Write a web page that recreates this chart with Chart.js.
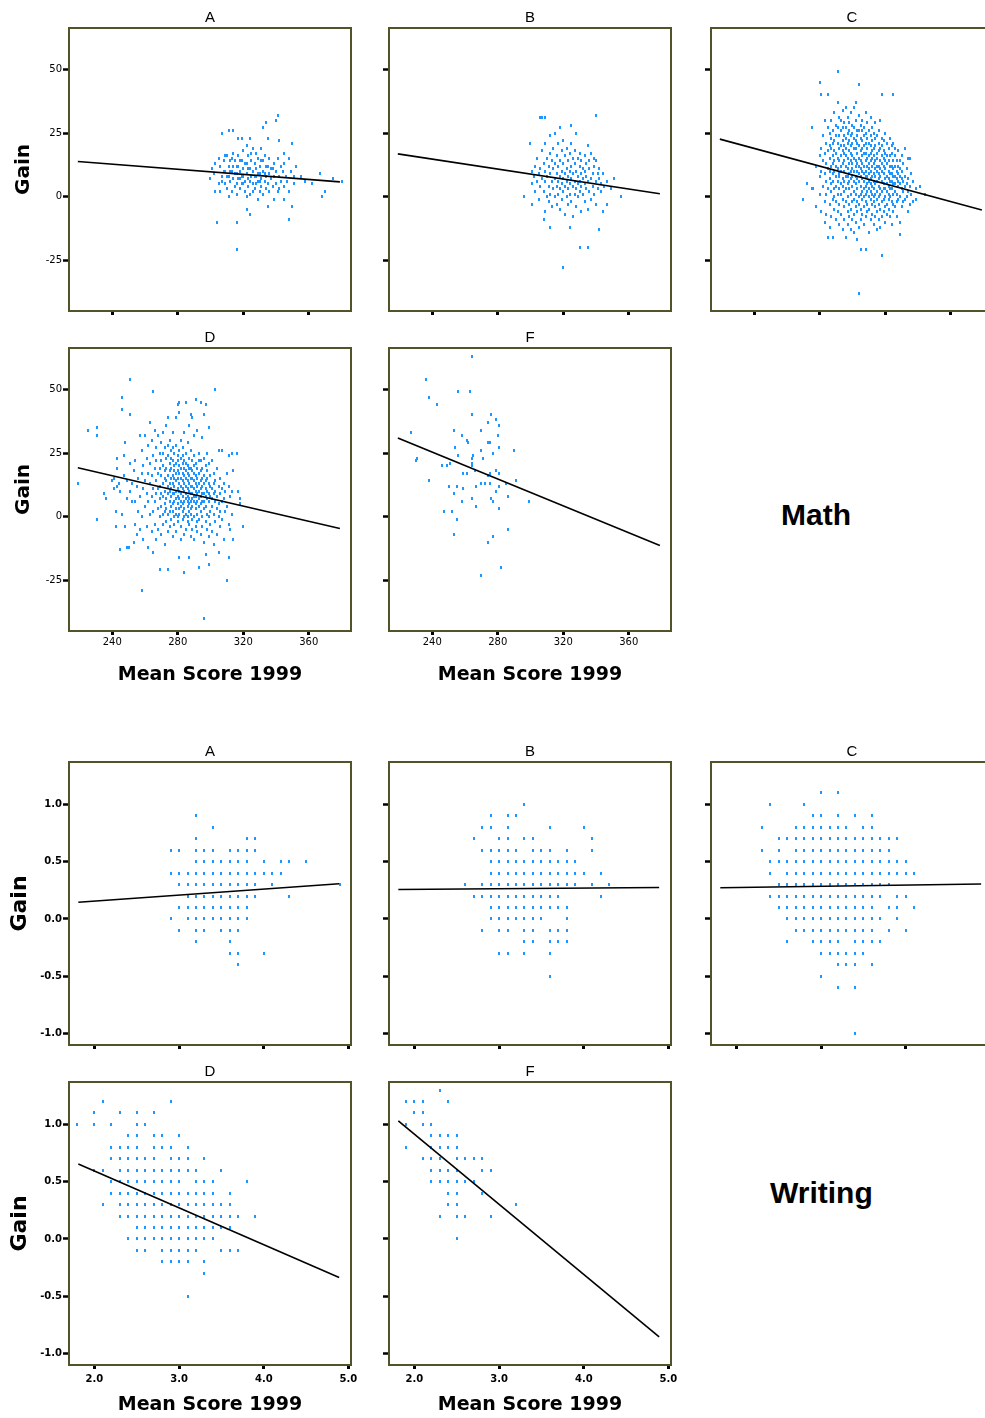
<!DOCTYPE html>
<html>
<head>
<meta charset="utf-8">
<script src="https://cdn.jsdelivr.net/npm/chart.js@4.4.1/dist/chart.umd.min.js"></script>
<style>
  html, body { margin: 0; padding: 0; background: #fff; overflow: hidden; }
  #wrap { position: relative; width: 985px; height: 1418px; overflow: hidden; background: #fff; }
  #wrap canvas { position: absolute; }
  .subject { position: absolute; font: bold 30px "Liberation Sans", Arial, sans-serif; line-height: 30px; color: #000; white-space: nowrap; }
</style>
</head>
<body>
<div id="wrap">
  <div class="subject" style="left:781px; top:500px;">Math</div>
  <div class="subject" style="left:770px; top:1178px;">Writing</div>
</div>
<script>
/* ================= DATA ================= */
// Math: gain against 1999 mean score, one school per point.
// Each entry is [score, gain, gain, ...] for schools sharing roughly that score.
const mathA = [
  [300, 7], [301, 11], [302, 9], [303, 2, 13], [304, -10], [305, 15, 5], [306, 2, 12],
  [307, 25, 8, 6], [308, 14, 10], [309, 10, 5, 16], [310, 16, 3, 8], [311, 26, 12, 8, 0],
  [312, 14, 6, 10], [313, 10, 2, 15], [314, 26, 17, 12, 7], [315, 4, 14, 9],
  [316, -21, -10, 1, 9, 5, 12], [317, 23, 12, 16, 7], [318, 7, 3, 10, 14], [319, 23, 14, 8, 5],
  [320, 5, 18, 11, 8], [321, 6, 2, 13], [322, -5, 20, 13, 9, 0], [323, 16, 7, 4, 11],
  [324, -7, 23, 11, 1, 6], [325, 14, 8, 17], [326, 19, 5, 10, 2], [327, 13, 3, 8],
  [328, 17, 8, 11, 5], [329, -1, 6, 15, 9], [330, 9, 2, 12, 6], [331, 19, 7, 4, 14],
  [332, 27, 10, 14, 1], [333, 6, 16, 9], [334, 29, 8, 3, 12], [335, 23, -4, 12, 5],
  [336, 9, 15, 2], [337, 7, 11], [338, 11, 4], [339, -1, 13, 8], [340, 30, 5, 10],
  [341, 32, 15, 2], [342, 22, 8, 3], [343, 12, 6], [344, 10], [345, 17, -1, 4, 13],
  [346, 8], [347, 6], [348, -9, 15, 2], [349, 10], [350, -4, 21], [351, 8, 5],
  [352, 12], [355, 8], [358, 6], [362, 5], [367, 9], [368, 0], [370, 2], [375, 7], [380, 6]
];

const mathB = [
  [296, 0], [300, 21], [301, -3, 5, 10], [302, 8], [303, 2, 12], [304, 6, 15], [305, -1, 9],
  [306, 31, 4, 11], [307, 31, 7, 18], [308, -9, 2, 13], [309, 31, 21, -6, 6, 10],
  [310, 0, 15, 8], [311, 4, 12, -2], [312, 24, -12, 9, 17, 1], [313, 6, 14, -4],
  [314, 11, 3, 19], [315, 25, 7, 0, 13], [316, 16, 9, 4, -3], [317, 12, 6, 21, 1],
  [318, 27, 8, 14, -5, 3], [319, 10, 18, 5, -1], [320, -28, 13, 7, 2, 22],
  [321, 9, 16, 4, -7], [322, 11, 6, 19, 0], [323, 14, 3, 8, -3], [324, -12, 17, 10, 5, 1],
  [325, 28, 12, 7, 21, -2], [326, 9, 4, 15, -8], [327, 6, 13, 1, 18], [328, 25, 10, 3, -4],
  [329, 8, 15, 5, 0], [330, -20, 12, 6, 2, 17], [331, 9, -6, 14, 4], [332, 7, 11, 1],
  [333, 16, 5, -2, 10], [334, 13, 3, 8], [335, -20, 20, 6, -5], [336, 11, 2, 14],
  [337, 7, 17, -1], [338, 4, 9], [339, 15, 12, 1], [340, 32, 14, 6, -3], [341, 9, 3],
  [342, -13, 7, 11], [343, 2, 5], [344, -6, 9], [345, 4], [347, -3, 6], [349, 3],
  [351, 7], [355, 0]
];

const mathC = [
  [270, -1], [272, 5], [275, 27, 3], [276, 3], [278, 12, -4], [280, 45, 8, 16, 1],
  [281, 40, 19, -6, 10], [282, 14, 4, 24], [283, 30, 9, -2, 17, -10],
  [284, 21, 6, 13, -7, 1], [285, 40, 27, 11, -16, 3, 18], [286, 25, 15, 7, -3, 20, -12, 10],
  [287, 30, 19, 2, 12, -8, 23, 5], [288, -16, 26, 9, 16, -1, 6, 21, 13],
  [289, 33, 14, 3, 22, -5, 10, 18, 0], [290, 28, 17, 8, -9, 12, 24, 4, -2],
  [291, 49, 37, 21, 11, 1, 15, -6, 27, 6], [292, 31, 19, 9, -11, 14, 3, 24, -3, 8],
  [293, 26, 16, 5, 12, -7, 20, 1, 30, 10], [294, 34, 22, 13, 7, -1, 18, -13, 4, 27],
  [295, 29, 17, 10, 2, -4, 24, 14, -9, 6, 20], [296, 35, 23, 12, 8, -2, 16, 3, -16, 19, 27],
  [297, 31, 21, 15, 5, -6, 11, 0, -11, 25, 8], [298, 26, 18, 9, 3, -3, 13, 22, -8, 6, 29],
  [299, 33, 20, 14, 7, 1, -5, 17, 24, 10, -13], [300, 28, 16, 11, 4, -2, 21, 8, -9, 13, 25],
  [301, 35, 23, 15, 6, -1, 10, 19, -7, 2, 27, -14], [302, 37, 30, 19, 12, 5, -4, 14, 8, -10, 22, 1],
  [303, 26, 17, 10, 3, -2, 21, 7, 13, -6, 24, -17], [304, 44, 32, 20, 12, 6, 0, 15, -3, 9, -12, 26, -38],
  [305, 28, 18, 11, 4, -5, 14, 23, 1, 8, -9, -21], [306, 30, 22, 13, 7, 2, 16, -1, 10, -7, 26, 19],
  [307, 27, 17, 9, 3, -4, 12, 20, 6, -11, 24, 0], [308, 33, 21, 14, 8, 1, -2, 17, 10, -8, 25, 4, -21],
  [309, 29, 19, 12, 5, -3, 15, 8, 23, -6, 2], [310, 26, 16, 11, 6, 0, -5, 13, 21, 9, -14, 3],
  [311, 31, 20, 14, 7, 2, -1, 17, 10, -9, 24, 5], [312, 27, 18, 12, 4, -3, 15, 8, 22, -7, 1],
  [313, 25, 16, 9, 3, -2, 13, 19, 6, -11, 0], [314, 29, 20, 11, 5, -4, 14, 8, 23, 1, -8],
  [315, 24, 15, 10, 2, -1, 17, 6, -6, 12, -13], [316, 26, 18, 12, 4, -3, 9, 21, 7, 0, -9],
  [317, 30, 14, 8, 1, -5, 11, 19, 3, -12], [318, 40, 23, 16, 10, 2, -2, 13, 6, -8, -23, 20],
  [319, 22, 12, 5, -1, 9, 15, 3, -6, 18], [320, 25, 14, 7, 0, -4, 11, 17, 3, -10],
  [321, 21, 13, 8, 2, -3, 16, 5, -7], [322, 19, 10, 4, -1, 14, 7, -5, 1],
  [323, 23, 12, 6, 0, -8, 9, 16, 3], [324, 17, 9, 3, -2, 12, 6, -11, 20],
  [325, 40, 21, 11, 5, -3, 14, 1, 8, -6], [326, 16, 8, 2, -4, 12, 5, 19],
  [327, 14, 7, 1, 10, -2, -8], [328, 18, 9, 4, -1, 12, 6], [329, -15, -10, 11, 5, 0, 8, 14],
  [330, 16, 3, 7, -4, 10], [331, 13, 2, 6, -2], [332, 19, 8, 4, -1], [333, 11, 5, 0],
  [334, -6, 15, 2, 7], [335, 15, 4, -3], [336, 9, 1], [337, 6, -2], [339, -1, 3], [341, 4], [344, 1]
];

const mathD = [
  [219, 13], [225, 34], [231, 35, 32, -1], [235, 9], [236, 7], [240, 14], [241, 15, 11],
  [242, 2, -4], [243, 23, 19, 12], [244, 13], [245, -13, 10], [246, 47, 42, 1], [247, 24, 16],
  [248, 29, -4], [249, -12, 7, 14], [250, -12], [251, 54, 40, 21, 10], [252, 13, 6],
  [253, -10, 18], [254, -3, 22, 6], [255, 12, -7], [256, 15, 2], [257, 32, 8, -5],
  [258, -29, 17, 26, 0], [259, 11, -9, 20], [260, 32, 14, 4], [261, 23, -4, 9],
  [262, 28, 17, -12, 6], [263, 37, 13, 1, 21], [264, 30, 8, -6, 16], [265, 49, 24, 11, 2, -14],
  [266, 34, 19, 6, -3], [267, 27, 14, 9, -9, 22], [268, 32, 17, 3, 11, -5],
  [269, -21, 25, 12, 7, 0, 19], [270, 29, 16, 4, -7, 9, 22], [271, 33, 20, 13, 1, -3, 8, 25],
  [272, 27, 18, 10, 5, -11, 15, 2], [273, 36, 23, 14, 7, -2, 19, 3],
  [274, -21, 39, 24, 16, 9, 1, -6, 12, 28], [275, 30, 21, 13, 6, -4, 18, 2, 10],
  [276, 26, 19, 11, 4, -1, 15, 8, 23], [277, 33, 22, 16, 9, 2, -8, 13, 5, 27],
  [278, 25, 18, 12, 6, 0, 20, -3, 9, 15], [279, 39, 28, 21, 14, 7, 3, -6, 17, 10, 1],
  [280, 44, 24, 18, 11, 5, -2, 15, 8, 22, 0], [281, 45, 41, 26, 20, 13, 7, 1, -16, 10, 17, 3],
  [282, 30, 23, 15, 9, 4, -4, 12, 19, 6, -9], [283, 27, 21, 14, 8, 2, -1, 17, 11, 5, 24],
  [284, -22, 33, 22, 16, 10, 6, 0, 13, 19, 3, -7], [285, 45, 25, 18, 12, 7, 1, -5, 15, 9, 21],
  [286, 29, 20, 14, 8, 4, -2, 11, 17, 6, 0], [287, -16, 36, 23, 16, 10, 5, -3, 13, 7, 19, 2],
  [288, 40, 26, 19, 12, 6, 1, -8, 9, 15, 3], [289, 39, 22, 15, 9, 4, -1, 12, 7, 18, -5],
  [290, 32, 24, 17, 11, 6, 0, 14, 8, 20, -9], [291, 46, 21, 13, 8, 3, -4, 16, 10, 5],
  [292, 34, 19, 12, 6, 1, -6, 9, 15, -2], [293, -20, 25, 17, 10, 4, -1, 13, 7, 22],
  [294, 45, 22, 14, 8, 2, -7, 11, 5, 18], [295, 31, 19, 12, 6, 0, -4, 9, 15],
  [296, -40, 40, 23, 16, 9, 3, -10, 13, 6], [297, 44, 20, 11, 4, -2, 14, 8, -15],
  [298, 25, 15, 7, 1, -5, 10, 18], [299, 35, -19, 21, 13, 6, 0, 9, -8], [300, 16, 8, 2, -3, 12],
  [301, 22, 11, 4, -6, 7], [302, 17, 9, 1, -11, 13], [303, 50, 14, 6, -2, 10], [304, 19, 8, 3, -7],
  [305, 26, -14, 12, 5, 0], [306, 15, 9, 2, -4], [307, 26, 11, 6, -1], [308, 7, -9, 13],
  [309, 10, 2], [310, -25, 17, 4], [311, -16, 24, 12, -3], [312, 8, -5], [313, 25, 1, 10],
  [314, 18, -9], [316, 25], [317, 10], [318, 7, 5], [320, -4]
];

const mathF = [
  [227, 33], [230, 22], [231, 23], [236, 54], [238, 47, 14], [243, 44], [246, 20], [247, 2],
  [249, 20], [250, 12], [251, 21], [252, 2], [253, 34, 9, -7], [254, 27], [255, 12, -1],
  [256, 49, 24], [258, 32, 6], [259, 17, 11], [261, 30, 17], [262, 29], [263, 49],
  [264, 63, 40, 23, 21, 20, 7], [265, 24], [266, 18], [267, 12, 4], [270, 34, 26, -23, 13],
  [271, 23], [272, 13], [274, 37, 29, 16, -10], [275, 29, 17, 13], [276, 40, 7],
  [277, 25, 6, -8], [279, 38, 18, 10], [280, 32], [281, 36, 27, 17, 12, 3], [282, -20],
  [285, 13], [286, 8, -5], [290, 26], [291, 14], [299, 6]
];

// Writing: each entry is [gain, score, score, ...] for one row of the 0.1 grid.
const writingA = [
  [0.9, 3.2], [0.8, 3.4], [0.7, 3.2, 3.8, 3.9],
  [0.6, 2.9, 3.0, 3.2, 3.3, 3.4, 3.6, 3.7, 3.8, 3.9],
  [0.5, 3.2, 3.3, 3.4, 3.5, 3.6, 3.7, 3.8, 4.0, 4.2, 4.3, 4.5],
  [0.4, 2.9, 3.0, 3.1, 3.2, 3.3, 3.4, 3.5, 3.6, 3.7, 3.8, 3.9, 4.0, 4.1, 4.2],
  [0.3, 3.0, 3.1, 3.2, 3.3, 3.4, 3.5, 3.6, 3.7, 3.8, 3.9, 4.1, 4.9],
  [0.2, 3.1, 3.2, 3.3, 3.4, 3.5, 3.6, 3.7, 3.8, 3.9, 4.3],
  [0.1, 3.0, 3.1, 3.2, 3.3, 3.4, 3.5, 3.6, 3.7, 3.8],
  [0.0, 2.9, 3.1, 3.2, 3.3, 3.4, 3.5, 3.6, 3.7, 3.8],
  [-0.1, 3.0, 3.2, 3.3, 3.5, 3.6, 3.7],
  [-0.2, 3.2, 3.6], [-0.3, 3.6, 3.7, 4.0], [-0.4, 3.7]
];

const writingB = [
  [1.0, 3.3], [0.9, 2.9, 3.1, 3.2], [0.8, 2.8, 2.9, 3.1, 3.6, 4.0],
  [0.7, 2.7, 3.0, 3.1, 3.3, 3.4, 4.1],
  [0.6, 2.8, 2.9, 3.0, 3.1, 3.2, 3.4, 3.5, 3.6, 3.8, 4.1],
  [0.5, 2.9, 3.0, 3.1, 3.2, 3.3, 3.4, 3.5, 3.6, 3.7, 3.8, 3.9],
  [0.4, 2.9, 3.0, 3.1, 3.2, 3.3, 3.4, 3.5, 3.6, 3.7, 3.8, 3.9, 4.0, 4.2],
  [0.3, 2.6, 2.8, 2.9, 3.0, 3.1, 3.2, 3.3, 3.4, 3.5, 3.6, 3.7, 3.8, 3.9, 4.1, 4.3],
  [0.2, 2.7, 2.8, 2.9, 3.0, 3.1, 3.2, 3.3, 3.4, 3.5, 3.6, 3.7, 4.2],
  [0.1, 2.9, 3.0, 3.1, 3.2, 3.3, 3.4, 3.5, 3.6, 3.7, 3.8],
  [0.0, 2.9, 3.0, 3.1, 3.2, 3.3, 3.4, 3.5, 3.8],
  [-0.1, 2.8, 3.0, 3.1, 3.3, 3.4, 3.6, 3.7, 3.8],
  [-0.2, 3.3, 3.4, 3.6, 3.7, 3.8], [-0.3, 3.0, 3.1, 3.3, 3.6], [-0.5, 3.6]
];

const writingC = [
  [1.1, 3.0, 3.2], [1.0, 2.4, 2.8], [0.9, 2.9, 3.0, 3.2, 3.4, 3.6],
  [0.8, 2.3, 2.7, 2.8, 2.9, 3.0, 3.1, 3.2, 3.3, 3.5, 3.6],
  [0.7, 2.5, 2.6, 2.7, 2.8, 2.9, 3.0, 3.1, 3.2, 3.3, 3.4, 3.5, 3.6, 3.7, 3.8, 3.9],
  [0.6, 2.3, 2.5, 2.7, 2.8, 2.9, 3.0, 3.1, 3.2, 3.3, 3.4, 3.5, 3.6, 3.7, 3.8],
  [0.5, 2.4, 2.5, 2.6, 2.7, 2.8, 2.9, 3.0, 3.1, 3.2, 3.3, 3.4, 3.5, 3.6, 3.7, 3.8, 3.9, 4.0],
  [0.4, 2.4, 2.6, 2.7, 2.8, 2.9, 3.0, 3.1, 3.2, 3.3, 3.4, 3.5, 3.6, 3.7, 3.8, 3.9, 4.0, 4.1],
  [0.3, 2.5, 2.6, 2.7, 2.8, 2.9, 3.0, 3.1, 3.2, 3.3, 3.4, 3.5, 3.6, 3.7, 3.8],
  [0.2, 2.4, 2.5, 2.6, 2.7, 2.8, 2.9, 3.0, 3.1, 3.2, 3.3, 3.4, 3.5, 3.6, 3.7, 3.9, 4.0],
  [0.1, 2.5, 2.6, 2.7, 2.8, 2.9, 3.0, 3.1, 3.2, 3.3, 3.4, 3.5, 3.6, 3.8, 3.9, 4.1],
  [0.0, 2.6, 2.7, 2.8, 2.9, 3.0, 3.1, 3.2, 3.3, 3.4, 3.5, 3.6, 3.7, 3.9],
  [-0.1, 2.7, 2.8, 2.9, 3.0, 3.1, 3.2, 3.3, 3.4, 3.5, 3.6, 3.8, 4.0],
  [-0.2, 2.6, 2.9, 3.0, 3.1, 3.2, 3.4, 3.5, 3.6, 3.7],
  [-0.3, 3.0, 3.1, 3.2, 3.3, 3.4, 3.5], [-0.4, 3.2, 3.3, 3.4, 3.6],
  [-0.5, 3.0], [-0.6, 3.2, 3.4], [-1.0, 3.4]
];

const writingD = [
  [1.2, 2.1, 2.9], [1.1, 2.0, 2.3, 2.5, 2.7], [1.0, 1.8, 2.0, 2.2, 2.5, 2.6],
  [0.9, 2.4, 2.5, 2.7, 2.8, 3.0], [0.8, 2.2, 2.3, 2.4, 2.5, 2.7, 2.8, 2.9, 3.1],
  [0.7, 2.2, 2.3, 2.4, 2.5, 2.6, 2.7, 2.9, 3.0, 3.1, 3.3],
  [0.6, 2.0, 2.1, 2.3, 2.4, 2.5, 2.6, 2.7, 2.8, 2.9, 3.0, 3.1, 3.2, 3.5],
  [0.5, 2.2, 2.3, 2.4, 2.5, 2.6, 2.7, 2.8, 2.9, 3.0, 3.2, 3.3, 3.4, 3.8],
  [0.4, 2.2, 2.3, 2.4, 2.5, 2.6, 2.7, 2.8, 2.9, 3.0, 3.1, 3.2, 3.3, 3.4, 3.6],
  [0.3, 2.1, 2.3, 2.4, 2.5, 2.6, 2.7, 2.8, 2.9, 3.0, 3.1, 3.2, 3.3, 3.4, 3.5, 3.6],
  [0.2, 2.3, 2.4, 2.5, 2.6, 2.7, 2.8, 2.9, 3.0, 3.1, 3.2, 3.3, 3.4, 3.5, 3.6, 3.7, 3.9],
  [0.1, 2.5, 2.6, 2.7, 2.8, 2.9, 3.0, 3.1, 3.2, 3.3, 3.4, 3.5, 3.6],
  [0.0, 2.4, 2.5, 2.6, 2.7, 2.8, 2.9, 3.0, 3.1, 3.2, 3.3, 3.4],
  [-0.1, 2.5, 2.6, 2.8, 2.9, 3.0, 3.1, 3.2, 3.5, 3.6, 3.7],
  [-0.2, 2.8, 2.9, 3.0, 3.1, 3.3], [-0.3, 3.3], [-0.5, 3.1]
];

const writingF = [
  [1.3, 2.3], [1.2, 1.9, 2.0, 2.1, 2.4], [1.1, 2.0, 2.1], [1.0, 1.9, 2.1, 2.2],
  [0.9, 2.2, 2.3, 2.4, 2.5], [0.8, 1.9, 2.2, 2.3, 2.4, 2.5],
  [0.7, 2.1, 2.2, 2.3, 2.5, 2.6, 2.7, 2.8], [0.6, 2.2, 2.3, 2.4, 2.5, 2.8, 2.9],
  [0.5, 2.2, 2.3, 2.4, 2.5, 2.6, 2.7], [0.4, 2.4, 2.5, 2.8], [0.3, 2.4, 2.5, 3.2],
  [0.2, 2.3, 2.5, 2.6, 2.9], [0.0, 2.5]
];

// Fitted regression lines, [score, gain] at each end
const mathLineA = [[219, 13.8], [379, 5.8]];
const mathLineB = [[219, 16.8], [379, 1.1]];
const mathLineC = [[219, 22.6], [379, -5.3]];
const mathLineD = [[219, 19.2], [379, -4.7]];
const mathLineF = [[219, 30.9], [379, -11.4]];
const writingLineA = [[1.81, 0.146], [4.89, 0.307]];
const writingLineB = [[1.81, 0.257], [4.89, 0.275]];
const writingLineC = [[1.81, 0.272], [4.89, 0.305]];
const writingLineD = [[1.81, 0.655], [4.89, -0.336]];
const writingLineF = [[1.81, 1.03], [4.89, -0.855]];

// Axis ticks
const mathXTicks = [240, 280, 320, 360];
const mathYTicks = [-25, 0, 25, 50];
const writingXTicks = [2, 3, 4, 5];
const writingYTicks = [-1, -0.5, 0, 0.5, 1];

/* ================= STYLE ================= */
const POINT_COLOR = "#1e96ff";
const FRAME_COLOR = "#53532a";
const LEFT = 69, TOP = 28, RIGHT = 14, PLOT_W = 282, PLOT_H = 283;

Chart.defaults.font.family = "'DejaVu Sans', sans-serif";
Chart.defaults.color = "#000";

const SUBJECTS = {
  math: {
    xMin: 213.6, xMax: 385.8, yMin: -45, yMax: 66.3,
    xTicks: mathXTicks, yTicks: mathYTicks,
    fmt: v => String(v),
    tickFont: { size: 10 }, xPad: 1,
    gainFont: 20, gainPad: 11.7, xTitlePad: 4.8, bottom: 60
  },
  writing: {
    xMin: 1.70, xMax: 5.03, yMin: -1.10, yMax: 1.37,
    xTicks: writingXTicks, yTicks: writingYTicks,
    fmt: v => v.toFixed(1),
    tickFont: { size: 10, weight: "bold" }, xPad: 4,
    gainFont: 22, gainPad: 6.6, xTitlePad: 4.0, bottom: 55
  }
};

/* ================= HELPERS ================= */
function fromColumns(cols) {
  const pts = [];
  cols.forEach(c => c.slice(1).forEach(y => pts.push({ x: c[0], y: y })));
  return pts;
}

function fromRows(rows) {
  const pts = [];
  rows.forEach(r => r.slice(1).forEach(x => pts.push({ x: x, y: r[0] })));
  return pts;
}

function toXY(line) {
  return line.map(p => ({ x: p[0], y: p[1] }));
}

// 2x3 marker used for every school
const dot = document.createElement("canvas");
dot.width = 2;
dot.height = 3;
const dctx = dot.getContext("2d");
dctx.fillStyle = POINT_COLOR;
dctx.fillRect(0, 0, 2, 3);

const panelFrame = {
  id: "panelFrame",
  beforeDatasetsDraw(chart) {
    chart.ctx.imageSmoothingEnabled = false;
  },
  afterDraw(chart) {
    const { ctx, chartArea: a } = chart;
    ctx.save();
    ctx.strokeStyle = FRAME_COLOR;
    ctx.lineWidth = 2;
    ctx.strokeRect(a.left, a.top, a.right - a.left, a.bottom - a.top);
    ctx.restore();
  }
};

/* ================= PANELS ================= */
const panels = [
  { name: "A", subject: "math", left: 69, top: 28, pts: fromColumns(mathA), line: mathLineA, gain: true, foot: false },
  { name: "B", subject: "math", left: 389, top: 28, pts: fromColumns(mathB), line: mathLineB, gain: false, foot: false },
  { name: "C", subject: "math", left: 711, top: 28, pts: fromColumns(mathC), line: mathLineC, gain: false, foot: false },
  { name: "D", subject: "math", left: 69, top: 348, pts: fromColumns(mathD), line: mathLineD, gain: true, foot: true },
  { name: "F", subject: "math", left: 389, top: 348, pts: fromColumns(mathF), line: mathLineF, gain: false, foot: true },
  { name: "A", subject: "writing", left: 69, top: 762, pts: fromRows(writingA), line: writingLineA, gain: true, foot: false },
  { name: "B", subject: "writing", left: 389, top: 762, pts: fromRows(writingB), line: writingLineB, gain: false, foot: false },
  { name: "C", subject: "writing", left: 711, top: 762, pts: fromRows(writingC), line: writingLineC, gain: false, foot: false },
  { name: "D", subject: "writing", left: 69, top: 1082, pts: fromRows(writingD), line: writingLineD, gain: true, foot: true },
  { name: "F", subject: "writing", left: 389, top: 1082, pts: fromRows(writingF), line: writingLineF, gain: false, foot: true }
];

function drawPanel(p) {
  const s = SUBJECTS[p.subject];
  const bottom = p.foot ? s.bottom : 8;
  const w = LEFT + PLOT_W + RIGHT;
  const h = TOP + PLOT_H + bottom;

  const canvas = document.createElement("canvas");
  canvas.width = w;
  canvas.height = h;
  canvas.style.width = w + "px";
  canvas.style.height = h + "px";
  canvas.style.left = (p.left - LEFT) + "px";
  canvas.style.top = (p.top - TOP) + "px";
  document.getElementById("wrap").appendChild(canvas);

  const hidden = "rgba(0,0,0,0)";

  new Chart(canvas, {
    type: "scatter",
    data: {
      datasets: [
        {
          data: toXY(p.line),
          showLine: true,
          borderColor: "#000",
          borderWidth: 1.6,
          pointRadius: 0,
          pointHoverRadius: 0,
          order: 0
        },
        {
          data: p.pts,
          pointStyle: dot,
          pointRadius: 1.5,
          pointHoverRadius: 1.5,
          order: 1
        }
      ]
    },
    options: {
      responsive: false,
      animation: false,
      events: [],
      layout: { padding: { left: 0, top: 0, right: RIGHT, bottom: 0 } },
      plugins: {
        legend: { display: false },
        tooltip: { enabled: false },
        title: {
          display: true,
          text: p.name,
          fullSize: false,
          color: "#000",
          font: { family: "'Liberation Sans', Arial, sans-serif", size: 15, weight: "normal", lineHeight: 1.2 },
          padding: { top: 8.75, bottom: 1.25 }
        }
      },
      scales: {
        x: {
          type: "linear",
          min: s.xMin,
          max: s.xMax,
          afterBuildTicks: axis => { axis.ticks = s.xTicks.map(v => ({ value: v })); },
          afterFit: axis => {
            axis.height = bottom;
            // keep the edge labels from shrinking the plot
            axis.paddingLeft = 0;
            axis.paddingRight = 0;
          },
          border: { display: false },
          grid: { drawOnChartArea: false, drawTicks: true, tickLength: 4, tickWidth: 3, tickColor: "#000" },
          ticks: {
            autoSkip: false,
            maxRotation: 0,
            padding: s.xPad,
            font: s.tickFont,
            color: p.foot ? "#000" : hidden,
            callback: v => s.fmt(v)
          },
          title: {
            display: p.foot,
            text: "Mean Score 1999",
            color: "#000",
            font: { size: 19, weight: "bold", lineHeight: 1.2 },
            padding: { top: 0, bottom: s.xTitlePad }
          }
        },
        y: {
          type: "linear",
          min: s.yMin,
          max: s.yMax,
          afterBuildTicks: axis => { axis.ticks = s.yTicks.map(v => ({ value: v })); },
          afterFit: axis => {
            axis.width = LEFT;
            axis.paddingTop = 0;
            axis.paddingBottom = 0;
          },
          border: { display: false },
          grid: { drawOnChartArea: false, drawTicks: true, tickLength: 6, tickWidth: 2.5, tickColor: "#000" },
          ticks: {
            autoSkip: false,
            padding: 1,
            font: s.tickFont,
            color: p.gain ? "#000" : hidden,
            callback: v => s.fmt(v)
          },
          title: {
            display: p.gain,
            text: "Gain",
            color: "#000",
            font: { size: s.gainFont, weight: "bold", lineHeight: 1.2 },
            padding: { top: s.gainPad, bottom: 0 }
          }
        }
      }
    },
    plugins: [panelFrame]
  });
}

panels.forEach(drawPanel);
</script>
</body>
</html>
